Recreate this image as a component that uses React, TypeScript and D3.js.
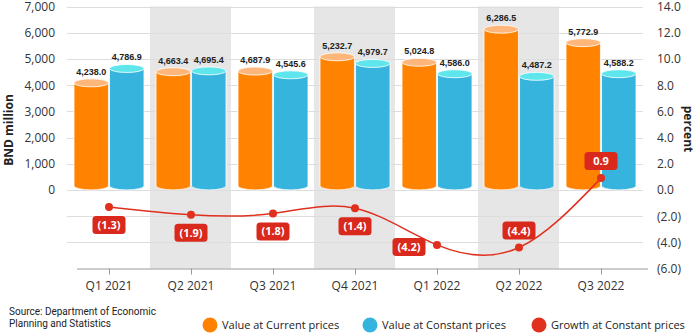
import React from "react";
import * as d3 from "d3";

const categories = ["Q1 2021", "Q2 2021", "Q3 2021", "Q4 2021", "Q1 2022", "Q2 2022", "Q3 2022"];
const currentPrices = [4238.0, 4663.4, 4687.9, 5232.7, 5024.8, 6286.5, 5772.9];
const constantPrices = [4786.9, 4695.4, 4545.6, 4979.7, 4586.0, 4487.2, 4588.2];
const growth = [-1.3, -1.9, -1.8, -1.4, -4.2, -4.4, 0.9];
const leftTicks = [0, 1000, 2000, 3000, 4000, 5000, 6000, 7000];
const rightTicks = [-6, -4, -2, 0, 2, 4, 6, 8, 10, 12, 14];
const shadedCategories = ["Q2 2021", "Q4 2021", "Q2 2022"];
const labelPlacement = ["below", "below", "below", "below", "left", "above", "above"];
const seriesNames = ["Value at Current prices", "Value at Constant prices", "Growth at Constant prices"];

const W = 696, H = 333;
const ORANGE = "#FF8300", ORANGE_TOP = "#FFB67B";
const BLUE = "#36B4DE", BLUE_TOP = "#5FE6EC";
const RED = "#E0301E", RED_BOX = "#D9281C";
const FONT = "'Open Sans', sans-serif";

const fmtVal = d3.format(",.1f");
const fmtPct = (v: number) => (v < 0 ? `(${Math.abs(v).toFixed(1)})` : v.toFixed(1));

export default function App() {
  const top = 6.5, bottom = 268.5;
  const x = d3.scaleBand<string>().domain(categories).range([68, 642]).padding(0);
  const yL = d3.scaleLinear().domain([-3000, 7000]).range([bottom, top]);
  const yR = d3.scaleLinear().domain([-6, 14]).range([bottom, top]);
  const x1 = d3.scaleBand<string>().domain(["cur", "con"]).range([6, x.bandwidth() - 6]).paddingInner(0.03);
  const ry = 4;

  const cylinder = (bx: number, bw: number, v: number, body: string, topC: string, key: string) => {
    const rx = bw / 2;
    const yt = yL(v) + ry;
    const yb = yL(0) - ry;
    const d = `M${bx},${yt} L${bx},${yb} A${rx},${ry} 0 0 0 ${bx + bw},${yb} L${bx + bw},${yt} Z`;
    return (
      <g key={key}>
        <path d={d} fill={body} stroke="#fff" strokeWidth={0.8} />
        <ellipse cx={bx + rx} cy={yt} rx={rx} ry={ry} fill={topC} stroke="#fff" strokeWidth={0.8} />
      </g>
    );
  };

  const line = d3
    .line<number>()
    .x((_, i) => (x(categories[i]) as number) + x.bandwidth() / 2)
    .y((d) => yR(d))
    .curve(d3.curveNatural);

  const gridVals = d3.range(-6, 14.01, 2);

  return (
    <svg width={W} height={H} style={{ position: "absolute", left: 0, top: 0, background: "#fff" }} fontFamily={FONT}>
      {shadedCategories.map((c) => (
        <rect key={c} x={x(c)} y={top} width={x.bandwidth() - 1} height={bottom - top} fill="#E6E6E6" />
      ))}
      {gridVals.slice(1).map((g) => (
        <line key={g} x1={67} x2={643} y1={Math.round(yR(g)) + 0.5} y2={Math.round(yR(g)) + 0.5} stroke="#DDDDDD" strokeWidth={1} />
      ))}
      <line x1={77} x2={648} y1={bottom + 0.5} y2={bottom + 0.5} stroke="#9A9A9A" strokeWidth={1} />
      {categories.map((c) => {
        const cx = Math.round((x(c) as number) + x.bandwidth() / 2) + 0.5;
        return <line key={c} x1={cx} x2={cx} y1={bottom} y2={bottom + 6} stroke="#9A9A9A" />;
      })}
      {categories.map((c) => (
        <text key={c} x={(x(c) as number) + x.bandwidth() / 2} y={290} textAnchor="middle" fontSize={12} fill="#333">
          {c}
        </text>
      ))}
      {leftTicks.map((t) => (
        <text key={t} x={55} y={yL(t) + 4.5} textAnchor="end" fontSize={12} fill="#333">
          {d3.format(",")(t)}
        </text>
      ))}
      {rightTicks.map((t) => (
        <text key={t} x={657} y={yR(t) + 4.5} textAnchor="start" fontSize={12} fill="#333">
          {fmtPct(t)}
        </text>
      ))}
      <text transform="translate(13,130) rotate(-90)" textAnchor="middle" fontSize={12} fontWeight="bold" fill="#222">
        BND million
      </text>
      <text transform="translate(684,129) rotate(90)" textAnchor="middle" fontSize={12} fontWeight="bold" fill="#222">
        percent
      </text>

      {categories.map((c, i) => {
        const bx0 = (x(c) as number) + (x1("cur") as number);
        const bx1 = (x(c) as number) + (x1("con") as number);
        const bw = x1.bandwidth();
        return (
          <g key={c}>
            {cylinder(bx0, bw, currentPrices[i], ORANGE, ORANGE_TOP, "a")}
            {cylinder(bx1, bw, constantPrices[i], BLUE, BLUE_TOP, "b")}
            <text x={bx0 + bw / 2} y={yL(currentPrices[i]) - 4} textAnchor="middle" fontSize={9} fontWeight="bold" fontFamily="'Liberation Sans', Arial, sans-serif" fill="#222">
              {fmtVal(currentPrices[i])}
            </text>
            <text x={bx1 + bw / 2} y={yL(constantPrices[i]) - 4} textAnchor="middle" fontSize={9} fontWeight="bold" fontFamily="'Liberation Sans', Arial, sans-serif" fill="#222">
              {fmtVal(constantPrices[i])}
            </text>
          </g>
        );
      })}

      <path d={line(growth) as string} fill="none" stroke={RED} strokeWidth={1.5} />
      {growth.map((g, i) => {
        const cx = (x(categories[i]) as number) + x.bandwidth() / 2;
        const cy = yR(g);
        const p = labelPlacement[i];
        const lx = p === "left" ? cx - 28 : cx;
        const ly = p === "below" ? cy + 18 : p === "above" ? cy - 17 : cy + 2;
        const bw = 33, bh = 18;
        return (
          <g key={i}>
            <circle cx={cx} cy={cy} r={4} fill={RED} />
            <rect x={lx - bw / 2} y={ly - bh / 2} width={bw} height={bh} rx={3.5} fill={RED_BOX} />
            <text x={lx} y={ly + 4} textAnchor="middle" fontSize={11} fontWeight="bold" fill="#fff">
              {fmtPct(g)}
            </text>
          </g>
        );
      })}

      <text x={9} y={315} fontSize={10} fontFamily="Roboto, sans-serif" fill="#222">Source: Department of Economic</text>
      <text x={9} y={327} fontSize={10} fontFamily="Roboto, sans-serif" fill="#222">Planning and Statistics</text>

      {seriesNames.map((s, i) => {
        const cx = [210, 370, 539][i];
        const col = [ORANGE, BLUE, RED][i];
        return (
          <g key={s}>
            <circle cx={cx} cy={325} r={7.5} fill={col} />
            <text x={cx + 12} y={329} fontSize={11} fill="#222">{s}</text>
          </g>
        );
      })}
    </svg>
  );
}
